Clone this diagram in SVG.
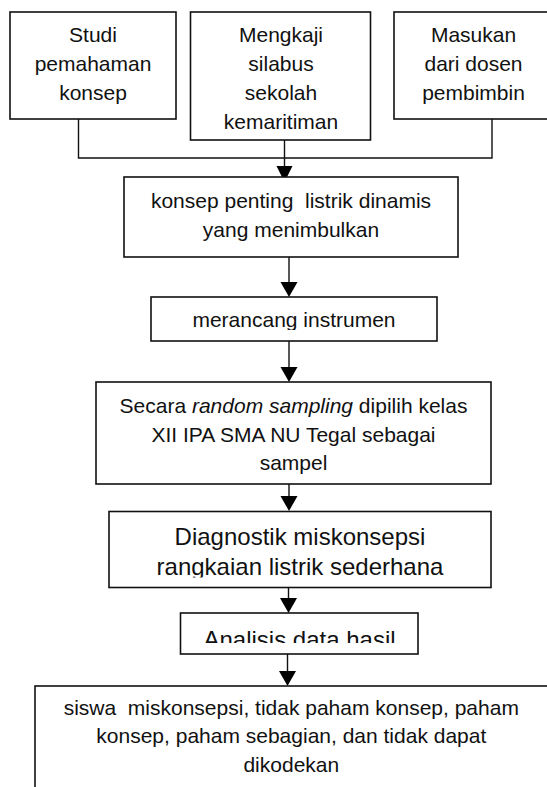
<svg xmlns="http://www.w3.org/2000/svg" width="547" height="787" viewBox="0 0 547 787">
<style>
.box{fill:#fff;stroke:#111;stroke-width:1.6}
.t{font-family:"Liberation Sans",Arial,sans-serif;font-size:21px;fill:#111;text-anchor:middle;white-space:pre}
.big{font-size:24px}
.ln{fill:none;stroke:#111;stroke-width:1.4}
.ah{fill:#000}
</style>
<defs>
<clipPath id="c5"><rect x="151" y="297" width="286" height="33"/></clipPath>
<clipPath id="c7"><rect x="109" y="511" width="382" height="66.5"/></clipPath>
<clipPath id="c8"><rect x="180" y="613" width="238" height="30"/></clipPath>
</defs>
<rect width="547" height="787" fill="#fff"/>
<g id="connectors">
<path class="ln" d="M78.5 119 V158 H492 V119"/>
<path class="ln" d="M284.5 140 V168"/>
<polygon class="ah" points="276.5,166 292.5,166 284.5,182"/>
<path class="ln" d="M289 257 V283"/>
<polygon class="ah" points="280.5,282 297.5,282 289,297"/>
<path class="ln" d="M289 341 V368"/>
<polygon class="ah" points="280.5,367 297.5,367 289,382"/>
<path class="ln" d="M289 484 V497"/>
<polygon class="ah" points="280.5,496 297.5,496 289,511"/>
<path class="ln" d="M288.5 587.5 V599"/>
<polygon class="ah" points="280,598 297,598 288.5,613"/>
<path class="ln" d="M287.5 654 V672"/>
<polygon class="ah" points="279,671 296,671 287.5,686"/>
</g>
<g id="n1">
<rect class="box" x="10" y="12" width="166" height="107"/>
<text class="t" x="93" y="42">Studi</text>
<text class="t" x="93" y="71">pemahaman</text>
<text class="t" x="93" y="100">konsep</text>
</g>
<g id="n2">
<rect class="box" x="190.5" y="12" width="180" height="128"/>
<text class="t" x="281" y="42">Mengkaji</text>
<text class="t" x="281" y="71">silabus</text>
<text class="t" x="281" y="100">sekolah</text>
<text class="t" x="281" y="128.5">kemaritiman</text>
</g>
<g id="n3">
<rect class="box" x="394" y="12" width="170" height="107"/>
<text class="t" x="473.5" y="42">Masukan</text>
<text class="t" x="473.5" y="71">dari dosen</text>
<text class="t" x="473.5" y="100">pembimbin</text>
</g>
<g id="n4">
<rect class="box" x="124" y="177" width="334" height="80"/>
<text class="t" x="291" y="208">konsep penting  listrik dinamis</text>
<text class="t" x="291" y="236.5">yang menimbulkan</text>
</g>
<g id="n5">
<rect class="box" x="151" y="297" width="286" height="44"/>
<text class="t" x="294" y="327" clip-path="url(#c5)">merancang instrumen</text>
</g>
<g id="n6">
<rect class="box" x="96" y="382" width="395" height="102"/>
<text class="t" x="293.5" y="413">Secara <tspan font-style="italic">random sampling</tspan> dipilih kelas</text>
<text class="t" x="293.5" y="442">XII IPA SMA NU Tegal sebagai</text>
<text class="t" x="293.5" y="470">sampel</text>
</g>
<g id="n7">
<rect class="box" x="109" y="511.5" width="382" height="76"/>
<g clip-path="url(#c7)">
<text class="t big" x="300" y="545">Diagnostik miskonsepsi</text>
<text class="t big" x="300" y="575">rangkaian listrik sederhana</text>
</g>
</g>
<g id="n8">
<rect class="box" x="180.5" y="613" width="237.5" height="41"/>
<text class="t big" x="299.5" y="647.5" clip-path="url(#c8)">Analisis data hasil</text>
</g>
<g id="n9">
<rect class="box" x="35" y="686" width="540" height="130"/>
<text class="t" x="291.3" y="715">siswa  miskonsepsi, tidak paham konsep, paham</text>
<text class="t" x="291.3" y="743">konsep, paham sebagian, dan tidak dapat</text>
<text class="t" x="291.3" y="772">dikodekan</text>
</g>
</svg>
